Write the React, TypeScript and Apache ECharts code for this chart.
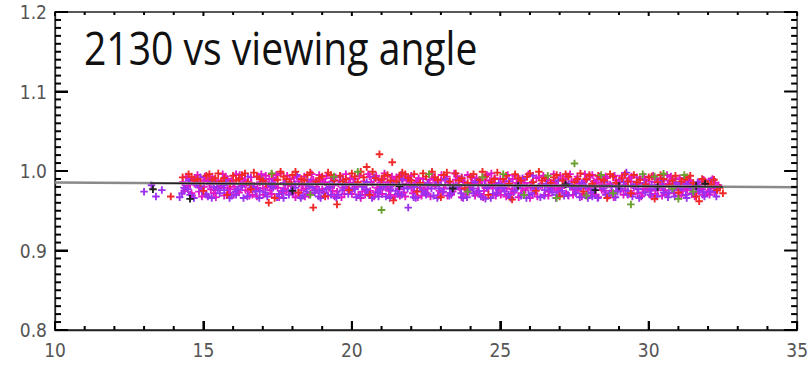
import React, { useEffect, useRef } from "react";
import * as echarts from "echarts";

const xTicks = [10, 15, 20, 25, 30, 35];
const yTicks = [0.8, 0.9, 1.0, 1.1, 1.2];
const xMinorStep = 1;
const yMinorStep = 0.01;
const titleText = "2130 vs viewing angle";

const magenta: number[][] = [
  [14.3,.986],[14.4,.978],[14.5,.991],[14.6,.972],[14.7,.984],[14.8,.995],[14.9,.979],[15.0,.988],[15.1,.970],[15.2,.983],[15.3,.993],[15.4,.976],[15.5,.987],[15.6,.981],[15.7,.969],[15.8,.990],[15.9,.977],[16.0,.985],[16.1,.996],[16.2,.973],[16.3,.982],[16.4,.989],[16.5,.975],[16.6,.992],[16.7,.980],[16.8,.968],[16.9,.986],[17.0,.978],[17.1,.994],[17.2,.983],[17.3,.971],[17.4,.988],[17.5,.979],[17.6,.997],[17.7,.985],[17.8,.974],[17.9,.990],[18.0,.981],[18.1,.967],[18.2,.987],[18.3,.976],[18.4,.993],[18.5,.984],[18.6,.972],[18.7,.989],[18.8,.980],[18.9,.995],[19.0,.977],[19.1,.986],[19.2,.969],[19.3,.991],[19.4,.982],[19.5,.974],[19.6,.988],[19.7,.979],[19.8,.996],[19.9,.985],[20.0,.971],[20.1,.990],[20.2,.981],[20.3,.966],[20.4,.987],[20.5,.976],[20.6,.993],[20.7,.983],[20.8,.973],[20.9,.989],[21.0,.980],[21.1,.997],[21.2,.986],[21.3,.970],[21.4,.984],[21.5,.992],[21.6,.977],[21.7,.988],[21.8,.968],[21.9,.982],[22.0,.994],[22.1,.975],[22.2,.987],[22.3,.979],[22.4,.990],[22.5,.972],[22.6,.985],[22.7,.996],[22.8,.981],[22.9,.969],[23.0,.988],[23.1,.978],[23.2,.993],[23.3,.983],[23.4,.974],[23.5,.989],[23.6,.980],[23.7,.967],[23.8,.986],[23.9,.995],[24.0,.976],[24.1,.984],[24.2,.991],[24.3,.971],[24.4,.982],[24.5,.988],[24.6,.978],[24.7,.997],[24.8,.985],[24.9,.973],[25.0,.990],[25.1,.980],[25.2,.968],[25.3,.987],[25.4,.977],[25.5,.994],[25.6,.983],[25.7,.972],[25.8,.989],[25.9,.981],[26.0,.966],[26.1,.986],[26.2,.976],[26.3,.992],[26.4,.984],[26.5,.970],[26.6,.988],[26.7,.979],[26.8,.996],[26.9,.982],[27.0,.974],[27.1,.990],[27.2,.985],[27.3,.969],[27.4,.987],[27.5,.977],[27.6,.993],[27.7,.981],[27.8,.971],[27.9,.989],[28.0,.980],[28.1,.995],[28.2,.984],[28.3,.967],[28.4,.986],[28.5,.975],[28.6,.991],[28.7,.983],[28.8,.972],[28.9,.988],[29.0,.978],[29.1,.994],[29.2,.982],[29.3,.970],[29.4,.987],[29.5,.979],[29.6,.992],[29.7,.985],[29.8,.973],[29.9,.989],[30.0,.980],[30.1,.968],[30.2,.986],[30.3,.976],[30.4,.991],[30.5,.983],[30.6,.971],[30.7,.988],[30.8,.978],[30.9,.990],[31.0,.982],[31.1,.969],[31.2,.985],[31.3,.976],[31.4,.988],[31.5,.980],[31.6,.972],[31.7,.986],[31.8,.977],[31.9,.983],[32.0,.974],[32.1,.981],[32.2,.978],
  [14.45,.981],[14.65,.989],[14.85,.974],[15.05,.993],[15.25,.977],[15.45,.985],[15.65,.996],[15.85,.972],[16.05,.980],[16.25,.991],[16.45,.984],[16.65,.970],[16.85,.993],[17.05,.987],[17.25,.976],[17.45,.995],[17.65,.972],[17.85,.982],[18.05,.991],[18.25,.969],[18.45,.978],[18.65,.996],[18.85,.985],[19.05,.973],[19.25,.983],[19.45,.992],[19.65,.967],[19.85,.978],[20.05,.985],[20.25,.994],[20.45,.970],[20.65,.986],[20.85,.979],[21.05,.990],[21.25,.975],[21.45,.968],[21.65,.995],[21.85,.984],[22.05,.972],[22.25,.991],[22.45,.982],[22.65,.968],[22.85,.988],[23.05,.973],[23.25,.986],[23.45,.997],[23.65,.977],[23.85,.970],[24.05,.992],[24.25,.983],[24.45,.975],[24.65,.988],[24.85,.969],[25.05,.982],[25.25,.995],[25.45,.973],[25.65,.990],[25.85,.976],[26.05,.985],[26.25,.968],[26.45,.994],[26.65,.974],[26.85,.987],[27.05,.979],[27.25,.993],[27.45,.970],[27.65,.984],[27.85,.996],[28.05,.972],[28.25,.989],[28.45,.980],[28.65,.969],[28.85,.994],[29.05,.975],[29.25,.986],[29.45,.971],[29.65,.981],[29.85,.993],[30.05,.975],[30.25,.990],[30.45,.969],[30.65,.984],[30.85,.972],[31.05,.991],[31.25,.979],[31.45,.971],[31.65,.983],[31.85,.989],[32.05,.970],[32.25,.985],
  [14.35,.975],[14.55,.983],[14.75,.990],[14.95,.968],[15.15,.987],[15.35,.972],[15.55,.979],[15.75,.993],[15.95,.988],[16.15,.975],[16.35,.986],[16.55,.969],[16.75,.977],[16.95,.996],[17.15,.980],[17.35,.990],[17.55,.967],[17.75,.978],[17.95,.984],[18.15,.993],[18.35,.982],[18.55,.970],[18.75,.976],[18.95,.988],[19.15,.994],[19.35,.975],[19.55,.984],[19.75,.971],[19.95,.991],[20.15,.983],[20.35,.974],[20.55,.996],[20.75,.968],[20.95,.985],[21.15,.980],[21.35,.993],[21.55,.982],[21.75,.973],[21.95,.989],[22.15,.985],[22.35,.969],[22.55,.978],[22.75,.990],[22.95,.975],[23.15,.982],[23.35,.970],[23.55,.993],[23.75,.986],[23.95,.979],[24.15,.969],[24.35,.988],[24.55,.995],[24.75,.980],[24.95,.976],[25.15,.987],[25.35,.971],[25.55,.985],[25.75,.978],[25.95,.996],[26.15,.972],[26.35,.981],[26.55,.990],[26.75,.985],[26.95,.976],[27.15,.982],[27.35,.996],[27.55,.989],[27.75,.968],[27.95,.978],[28.15,.987],[28.35,.980],[28.55,.993],[28.75,.975],[28.95,.984],[29.15,.970],[29.35,.991],[29.55,.983],[29.75,.968],[29.95,.977],[30.15,.994],[30.35,.982],[30.55,.976],[30.75,.993],[30.95,.980],[31.15,.975],[31.35,.988],[31.55,.968],[31.75,.978],[31.95,.972],[32.15,.990],[32.35,.982],
  [14.42,.993],[14.62,.969],[14.82,.986],[15.02,.980],[15.22,.990],[15.42,.967],[15.62,.988],[15.82,.979],[16.02,.970],[16.22,.995],[16.42,.976],[16.62,.985],[16.82,.979],[17.02,.970],[17.22,.990],[17.42,.981],[17.62,.975],[17.82,.994],[18.02,.972],[18.22,.984],[18.42,.968],[18.62,.987],[18.82,.976],[19.02,.990],[19.22,.979],[19.42,.968],[19.62,.993],[19.82,.984],[20.02,.978],[20.22,.970],[20.42,.983],[20.62,.975],[20.82,.994],[21.02,.971],[21.22,.982],[21.42,.989],[21.62,.969],[21.82,.993],[22.02,.980],[22.22,.967],[22.42,.976],[22.62,.989],[22.82,.983],[23.02,.995],[23.22,.969],[23.42,.982],[23.62,.990],[23.82,.978],[24.02,.985],[24.22,.974],[24.42,.967],[24.62,.983],[24.82,.991],[25.02,.970],[25.22,.978],[25.42,.990],[25.62,.967],[25.82,.985],[26.02,.979],[26.22,.991],[26.42,.981],[26.62,.969],[26.82,.978],[27.02,.994],[27.22,.972],[27.42,.980],[27.62,.976],[27.82,.987],[28.02,.993],[28.22,.970],[28.42,.976],[28.62,.983],[28.82,.967],[29.02,.989],[29.22,.976],[29.42,.993],[29.62,.972],[29.82,.978],[30.02,.987],[30.22,.971],[30.42,.981],[30.62,.995],[30.82,.984],[31.02,.969],[31.22,.991],[31.42,.982],[31.62,.977],[31.82,.970],[32.02,.987],[32.22,.973]
];

const purple: number[][] = [
  [13.0,.974],[13.25,.982],[13.4,.968],[13.6,.976],[14.2,.967],[14.35,.979],[14.55,.970],[14.75,.983],[14.95,.975],[15.15,.968],[15.35,.980],[15.55,.972],[15.75,.986],[15.95,.969],[16.15,.977],[16.35,.966],[16.55,.983],[16.75,.974],[16.95,.990],[17.15,.968],[17.35,.979],[17.55,.971],[17.75,.985],[17.95,.976],[18.15,.995],[18.35,.969],[18.55,.981],[18.75,.973],[18.95,.966],[19.15,.978],[19.35,.987],[19.55,.970],[19.75,.982],[19.95,.975],[20.15,.967],[20.35,.980],[20.55,.972],[20.75,.992],[20.95,.977],[21.15,.968],[21.35,.983],[21.55,.971],[21.75,.979],[21.9,.954],[22.15,.966],[22.35,.975],[22.55,.984],[22.75,.969],[22.95,.978],[23.15,.990],[23.35,.972],[23.55,.981],[23.75,.966],[23.95,.976],[24.15,.986],[24.35,.968],[24.55,.979],[24.75,.971],[24.95,.984],[25.15,.974],[25.35,.966],[25.55,.980],[25.75,.991],[25.95,.970],[26.15,.978],[26.35,.967],[26.55,.983],[26.75,.973],[26.95,.988],[27.15,.969],[27.35,.980],[27.55,.972],[27.75,.985],[27.95,.966],[28.15,.977],[28.35,.993],[28.55,.970],[28.75,.981],[28.95,.974],[29.15,.986],[29.25,.998],[29.45,.968],[29.65,.977],[29.85,.984],[30.05,.970],[30.25,.979],[30.45,.988],[30.65,.967],[30.85,.976],[31.05,.983],[31.25,.970],[31.45,.978],[31.65,.986],[31.85,.973],[32.05,.980],[32.25,.975],
  [14.5,.988],[14.9,.992],[15.3,.987],[15.7,.976],[16.1,.970],[16.5,.993],[16.9,.975],[17.3,.985],[17.7,.966],[18.1,.979],[18.5,.989],[18.9,.975],[19.3,.970],[19.7,.988],[20.1,.977],[20.5,.986],[20.9,.968],[21.3,.977],[21.7,.990],[22.1,.980],[22.5,.970],[22.9,.985],[23.3,.978],[23.7,.992],[24.1,.972],[24.5,.965],[24.9,.978],[25.3,.987],[25.7,.969],[26.1,.994],[26.5,.976],[26.9,.970],[27.3,.984],[27.7,.978],[28.1,.968],[28.5,.986],[28.9,.980],[29.3,.975],[29.7,.990],[30.1,.982],[30.5,.973],[30.9,.986],[31.3,.984],[31.7,.975],[32.1,.988],
  [14.28,.972],[14.48,.977],[14.68,.966],[14.88,.981],[15.08,.971],[15.28,.966],[15.48,.978],[15.68,.982],[15.88,.966],[16.08,.974],[16.28,.980],[16.48,.968],[16.68,.979],[16.88,.966],[17.08,.973],[17.28,.981],[17.48,.967],[17.68,.975],[17.88,.970],[18.08,.983],[18.28,.966],[18.48,.974],[18.68,.979],[18.88,.968],[19.08,.972],[19.28,.980],[19.48,.966],[19.68,.976],[19.88,.971],[20.08,.982],[20.28,.969],[20.48,.977],[20.68,.966],[20.88,.973],[21.08,.980],[21.28,.966],[21.48,.975],[21.68,.970],[21.88,.978],[22.08,.967],[22.28,.982],[22.48,.973],[22.68,.978],[22.88,.966],[23.08,.974],[23.28,.969],[23.48,.980],[23.68,.972],[23.88,.967],[24.08,.978],[24.28,.975],[24.48,.982],[24.68,.966],[24.88,.972],[25.08,.979],[25.28,.970],[25.48,.975],[25.68,.982],[25.88,.966],[26.08,.972],[26.28,.980],[26.48,.969],[26.68,.977],[26.88,.966],[27.08,.975],[27.28,.970],[27.48,.979],[27.68,.967],[27.88,.980],[28.08,.973],[28.28,.966],[28.48,.978],[28.68,.972],[28.88,.967],[29.08,.978],[29.28,.971],[29.48,.982],[29.68,.966],[29.88,.973],[30.08,.977],[30.28,.968],[30.48,.980],[30.68,.973],[30.88,.968],[31.08,.977],[31.28,.966],[31.48,.972],[31.68,.980],[31.88,.968],[32.08,.974],[32.28,.968]
];

const red: number[][] = [
  [13.9,.968],[14.3,.992],[14.5,.996],[14.7,.988],[14.9,.985],[15.1,.994],[15.3,.989],[15.5,.997],[15.7,.991],[15.9,.984],[16.1,.988],[16.3,.995],[16.5,.986],[16.7,.998],[16.9,.990],[17.1,.984],[17.2,.960],[17.3,.996],[17.5,.989],[17.7,.993],[17.9,.986],[18.1,.999],[18.3,.990],[18.5,.995],[18.7,.954],[18.8,.987],[19.0,.993],[19.2,.998],[19.4,.988],[19.5,.958],[19.6,.994],[19.8,.990],[20.0,.997],[20.2,.986],[20.4,.992],[20.5,1.005],[20.7,.999],[20.93,1.021],[21.0,.989],[21.2,.995],[21.36,1.011],[21.5,.987],[21.7,.998],[21.9,.991],[22.1,.996],[22.3,.985],[22.5,.993],[22.7,.999],[22.9,.989],[23.1,.995],[23.3,.987],[23.5,.997],[23.7,.991],[23.9,.985],[24.1,.996],[24.3,.989],[24.5,.993],[24.7,.986],[24.9,.998],[25.1,.990],[25.3,.984],[25.5,.996],[25.7,.988],[25.9,.993],[26.1,.986],[26.3,.999],[26.5,.991],[26.7,.985],[26.9,.995],[27.1,.988],[27.3,.993],[27.5,.986],[27.7,.997],[27.9,.990],[28.1,.984],[28.3,.994],[28.5,.988],[28.7,.996],[28.9,.985],[29.1,.991],[29.3,.987],[29.5,.995],[29.7,.989],[29.9,.983],[30.1,.993],[30.3,.986],[30.5,.990],[30.7,.982],[30.9,.994],[31.1,.987],[31.3,.992],[31.5,.985],[31.7,.962],[31.8,.990],[32.0,.984],[32.2,.989],[32.4,.979],[32.5,.972],
  [15.0,.975],[15.8,.970],[16.6,.977],[17.4,.966],[18.2,.973],[19.1,.968],[19.9,.976],[20.6,.970],[21.4,.963],[22.2,.974],[23.0,.967],[23.8,.978],[24.6,.970],[25.4,.964],[26.2,.975],[27.0,.968],[27.8,.974],[28.6,.966],[29.4,.972],[30.2,.965],[31.0,.973],[31.6,.968],[32.3,.976],
  [14.6,.993],[14.8,.990],[15.2,.996],[15.4,.991],[15.6,.987],[16.0,.994],[16.2,.990],[16.4,.997],[16.8,.993],[17.0,.988],[17.6,.999],[17.8,.990],[18.0,.995],[18.4,.988],[18.6,.998],[18.9,.991],[19.3,.995],[19.7,.987],[20.1,.993],[20.3,.999],[20.8,.991],[21.1,.994],[21.3,.988],[21.6,.993],[21.8,.996],[22.0,.988],[22.4,.997],[22.8,.992],[23.2,.998],[23.6,.988],[24.0,.993],[24.4,.999],[24.8,.990],[25.2,.994],[25.6,.991],[26.0,.997],[26.4,.988],[26.8,.992],[27.2,.996],[27.6,.990],[28.0,.995],[28.4,.990],[28.8,.993],[29.2,.996],[29.6,.986],[30.0,.992],[30.4,.995],[30.8,.988],[31.2,.990],[31.4,.994],[31.9,.987],[32.1,.983]
];

const green: number[][] = [
  [17.3,.997],[19.4,.993],[21.0,.951],[22.6,.996],[23.9,.974],[24.4,.992],[25.8,.970],[26.6,.994],[27.5,1.0095],[27.9,.969],[28.4,.995],[28.8,.972],[29.4,.958],[29.8,.996],[30.2,.993],[30.5,.9965],[30.8,.978],[31.0,.965],[31.2,.995],[31.5,.974],[25.1,.996],[20.2,.999],[18.6,.970],[26.9,.966]
];

const black: number[][] = [
  [14.55,.965],[13.3,.977],[18.0,.975],[21.6,.981],[23.4,.978],[25.6,.981],[27.2,.983],[29.0,.981],[30.3,.980],[31.6,.981],[28.2,.976],[31.9,.984]
];

const fitLineFull: number[][] = [[10, 0.9855], [35, 0.9795]];
const fitLineData: number[][] = [[13.2, 0.9847], [32.5, 0.9801]];

const plus = "path://M3,0h2v3h3v2h-3v3h-2v-3h-3v-2h3z";

function tickValues(lo: number, hi: number, step: number) {
  const out: number[] = [];
  const n = Math.round((hi - lo) / step);
  for (let i = 0; i <= n; i++) out.push(+(lo + i * step).toFixed(4));
  return out;
}

export default function App() {
  const ref = useRef<HTMLDivElement>(null);
  useEffect(() => {
    if (!ref.current) return;
    const chart = echarts.init(ref.current, null, { renderer: "svg" });
    const xMin = xTicks[0];
    const xMax = xTicks[xTicks.length - 1];
    const yMin = yTicks[0];
    const yMax = yTicks[yTicks.length - 1];
    const isMajorX = (v: number) => xTicks.some((m) => Math.abs(m - v) < 1e-6);
    const isMajorY = (v: number) => yTicks.some((m) => Math.abs(m - v) < 1e-6);
    const xAll = tickValues(xMin, xMax, xMinorStep);
    const yAll = tickValues(yMin, yMax, yMinorStep);

    const labelFont = {
      color: "#555",
      fontFamily: "'Liberation Sans Narrow', 'DejaVu Sans Condensed', sans-serif",
      fontSize: 19,
    };
    const scatter = (name: string, data: number[][], color: string) => ({
      name,
      type: "scatter",
      data,
      symbol: plus,
      symbolSize: 7.5,
      itemStyle: { color, opacity: 1 },
      z: 2,
    });
    const title = {
      type: "text",
      id: "title",
      left: 84,
      top: 24,
      scaleX: 0.85,
      originX: 0,
      style: { text: titleText, fill: "#111", font: "46px 'Open Sans', sans-serif" },
      z: 10,
    };

    chart.setOption({
      animation: false,
      backgroundColor: "#fff",
      grid: { left: 55, right: 13, top: 12, bottom: 37, show: true, borderColor: "#222", borderWidth: 1.3, backgroundColor: "transparent" },
      xAxis: {
        type: "value",
        min: xMin,
        max: xMax,
        interval: 5,
        splitLine: { show: false },
        axisLine: { show: true, onZero: false, lineStyle: { color: "#222", width: 1.3 } },
        axisTick: { show: true, inside: true, length: 9, lineStyle: { color: "#000", width: 2 } },
        axisLabel: { ...labelFont, margin: 10 },
      },
      yAxis: {
        type: "value",
        min: yMin,
        max: yMax,
        interval: 0.1,
        splitLine: { show: false },
        axisLine: { show: true, onZero: false, lineStyle: { color: "#222", width: 1.3 } },
        axisTick: { show: true, inside: true, length: 13, lineStyle: { color: "#000", width: 2 } },
        axisLabel: { ...labelFont, margin: 8, formatter: (v: number) => v.toFixed(1) },
      },
      series: [
        scatter("magenta", magenta, "#e018c8"),
        scatter("purple", purple, "#9c30f0"),
        scatter("red", red, "#f02828"),
        scatter("green", green, "#6aa030"),
        scatter("black", black, "#202020"),
        { type: "line", data: fitLineFull, symbol: "none", lineStyle: { color: "#8a8a8a", width: 2.5 }, z: 3 },
        { type: "line", data: fitLineData, symbol: "none", lineStyle: { color: "#1a1a1a", width: 1.3 }, z: 4 },
      ],
      graphic: [title],
    });

    // Tick marks as small filled rects placed through the chart's own scales.
    const toPx = (x: number, y: number) => chart.convertToPixel({ gridIndex: 0 }, [x, y]) as number[];
    const tickEls: any[] = [];
    const addRect = (x: number, y: number, w: number, h: number) => {
      tickEls.push({
        type: "rect",
        shape: { x, y, width: w, height: h },
        style: { fill: "#000" },
        z: 20,
        silent: true,
      });
    };
    const T = 2;
    xAll.forEach((v) => {
      const maj = isMajorX(v);
      const b = toPx(v, yMin);
      const t = toPx(v, yMax);
      if (b && t) {
        const lb = maj ? 9 : 4;
        const lt = maj ? 4 : 3;
        addRect(b[0] - T / 2, b[1] - lb, T, lb);
        addRect(t[0] - T / 2, t[1], T, lt);
      }
    });
    yAll.forEach((v) => {
      const maj = isMajorY(v);
      const l = toPx(xMin, v);
      const r = toPx(xMax, v);
      if (l && r) {
        const len = maj ? 13 : 6;
        addRect(l[0], l[1] - T / 2, len, T);
        addRect(r[0] - len, r[1] - T / 2, len, T);
      }
    });
    chart.setOption({ graphic: [title, ...tickEls] });

    return () => chart.dispose();
  }, []);
  return <div ref={ref} style={{ position: "fixed", left: 0, top: 0, width: 811, height: 367 }} />;
}
